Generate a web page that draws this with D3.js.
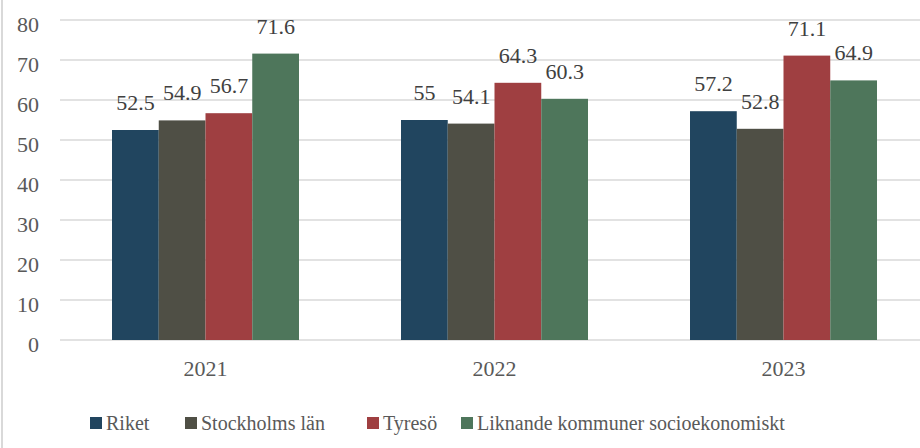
<!DOCTYPE html>
<html><head><meta charset="utf-8"><script src="https://cdn.jsdelivr.net/npm/d3@7"></script></head>
<body style="margin:0">
<svg id="chart" width="920" height="448" style="display:block"></svg>
<script>
const years = ["2021", "2022", "2023"];
const seriesNames = ["Riket", "Stockholms län", "Tyresö", "Liknande kommuner socioekonomiskt"];
const riket = [52.5, 55, 57.2];
const stockholm = [54.9, 54.1, 52.8];
const tyreso = [56.7, 64.3, 71.1];
const liknande = [71.6, 60.3, 64.9];
const yTicks = [0, 10, 20, 30, 40, 50, 60, 70, 80];
const colors = ["#21455f", "#4f4f45", "#9f3f41", "#4e765b"];

const seriesValues = [riket, stockholm, tyreso, liknande];
const SERIF = "'Liberation Serif'";

const svg = d3.select("#chart");
const H = 448;

svg.append("line").attr("x1", 2).attr("x2", 2).attr("y1", 0).attr("y2", H)
  .attr("stroke", "#d9d9d9").attr("stroke-width", 2);

const y = d3.scaleLinear().domain([0, 80]).range([340, 20]);
const x0 = d3.scaleBand().domain(years).range([61, 928]);
const groupW = 187;
const x1 = d3.scaleBand().domain(seriesNames).range([0, groupW]);
const off = (x0.bandwidth() - groupW) / 2;

svg.append("g").selectAll("line").data(yTicks).join("line")
  .attr("x1", 60).attr("x2", 930)
  .attr("y1", d => y(d)).attr("y2", d => y(d))
  .attr("stroke", "#d9d9d9").attr("stroke-width", 1.5);

svg.append("g").selectAll("text").data(yTicks).join("text")
  .attr("x", 39).attr("y", d => y(d) + 12)
  .attr("text-anchor", "end")
  .attr("font-size", 22)
  .style("font-family", SERIF, "important")
  .attr("fill", "#595959")
  .text(d => d);

const groups = svg.append("g").selectAll("g").data(years).join("g")
  .attr("transform", d => `translate(${x0(d) + off},0)`);

groups.selectAll("rect")
  .data((yr, i) => seriesNames.map((s, j) => ({ s, j, v: seriesValues[j][i] })))
  .join("rect")
  .attr("x", d => x1(d.s))
  .attr("width", x1.bandwidth())
  .attr("y", d => y(d.v))
  .attr("height", d => y(0) - y(d.v))
  .attr("fill", d => colors[d.j]);

groups.selectAll("text.lbl")
  .data((yr, i) => seriesNames.map((s, j) => ({ s, j, v: seriesValues[j][i] })))
  .join("text").attr("class", "lbl")
  .attr("x", d => x1(d.s) + x1.bandwidth() / 2)
  .attr("y", d => y(d.v) - 20)
  .attr("text-anchor", "middle")
  .attr("font-size", 22)
  .style("font-family", SERIF, "important")
  .attr("fill", "#404040")
  .text(d => d.v);

svg.append("g").selectAll("text").data(years).join("text")
  .attr("x", d => x0(d) + x0.bandwidth() / 2)
  .attr("y", 376)
  .attr("text-anchor", "middle")
  .attr("font-size", 22)
  .style("font-family", SERIF, "important")
  .attr("fill", "#595959")
  .text(d => d);

const legendX = [90, 185, 367, 461];
const leg = svg.append("g").selectAll("g").data(seriesNames).join("g")
  .attr("transform", (d, i) => `translate(${legendX[i]},0)`);
leg.append("rect").attr("x", 0).attr("y", 417).attr("width", 12).attr("height", 12)
  .attr("fill", (d, i) => colors[i]);
leg.append("text").attr("x", 16).attr("y", 430)
  .attr("font-size", 20)
  .style("font-family", SERIF, "important")
  .attr("fill", "#595959")
  .text(d => d);
</script>
</body>
</html>
